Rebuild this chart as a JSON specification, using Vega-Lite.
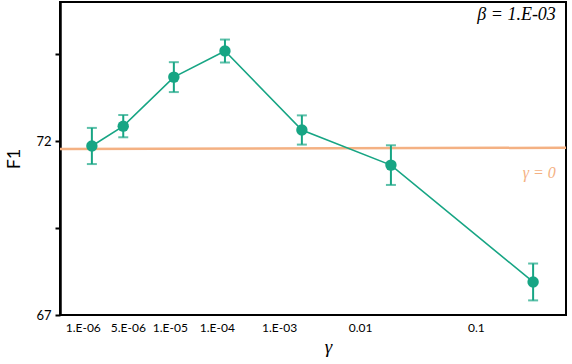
{
  "$schema": "https://vega.github.io/schema/vega-lite/v6.json",
  "width": 506,
  "height": 313,
  "autosize": "none",
  "padding": {"left": 60, "top": 2, "right": 6, "bottom": 49},
  "background": "white",
  "config": {
    "view": {"stroke": "black", "strokeWidth": 2},
    "font": "Lato"
  },
  "datasets": {
    "pts": [
      {"pos": 0.63, "f1": 71.86, "err": 0.52},
      {"pos": 1.25, "f1": 72.43, "err": 0.32},
      {"pos": 2.25, "f1": 73.84, "err": 0.43},
      {"pos": 3.26, "f1": 74.59, "err": 0.33},
      {"pos": 4.78, "f1": 72.32, "err": 0.42},
      {"pos": 6.54, "f1": 71.31, "err": 0.57},
      {"pos": 9.35, "f1": 67.95, "err": 0.53}
    ],
    "base": [
      {"pos": 0, "f1": 71.77},
      {"pos": 10, "f1": 71.81}
    ],
    "notes": [
      {"pos": 9.8, "f1": 75.62, "label": "β = 1.E-03", "kind": "beta"},
      {"pos": 9.8, "f1": 71.07, "label": "γ = 0", "kind": "gamma"}
    ]
  },
  "layer": [
    {
      "data": {"name": "base"},
      "mark": {"type": "line", "color": "#F4B183", "strokeWidth": 2.5},
      "encoding": {
        "x": {
          "field": "pos", "type": "quantitative",
          "scale": {"domain": [0, 10], "nice": false},
          "axis": {
            "values": [0.45, 1.34, 2.17, 3.1, 4.33, 5.93, 8.22],
            "labelExpr": "{'0.45':'1.E-06','1.34':'5.E-06','2.17':'1.E-05','3.1':'1.E-04','4.33':'1.E-03','5.93':'0.01','8.22':'0.1'}[datum.value + '']",
            "ticks": false, "grid": false, "domain": false,
            "labelFontSize": 12, "labelColor": "black", "labelPadding": 7,
            "title": "γ", "titleFontSize": 19, "titleFontStyle": "italic", "titleFontWeight": "normal",
            "titleFont": "Liberation Serif", "titlePadding": 4, "titleColor": "black", "titleX": 268
          }
        },
        "y": {
          "field": "f1", "type": "quantitative",
          "scale": {"domain": [67, 76], "nice": false, "zero": false},
          "axis": {
            "values": [67, 69.5, 72, 74.5],
            "labelExpr": "datum.value == 67 || datum.value == 72 ? datum.value : ''",
            "grid": false, "domainColor": "black", "domainWidth": 2.5,
            "tickColor": "black", "tickWidth": 2, "tickSize": 5,
            "labelFontSize": 13, "labelColor": "black", "labelPadding": 4,
            "title": "F1", "titleFontSize": 18, "titleFontWeight": "normal", "titleColor": "black", "titlePadding": 12
          }
        }
      }
    },
    {
      "data": {"name": "pts"},
      "mark": {"type": "line", "color": "#17A584", "strokeWidth": 1.6},
      "encoding": {
        "x": {"field": "pos", "type": "quantitative"},
        "y": {"field": "f1", "type": "quantitative"}
      }
    },
    {
      "data": {"name": "pts"},
      "transform": [
        {"calculate": "datum.f1 - datum.err", "as": "lo"},
        {"calculate": "datum.f1 + datum.err", "as": "hi"}
      ],
      "mark": {"type": "rule", "color": "#17A584", "strokeWidth": 2},
      "encoding": {
        "x": {"field": "pos", "type": "quantitative"},
        "y": {"field": "lo", "type": "quantitative"},
        "y2": {"field": "hi"}
      }
    },
    {
      "data": {"name": "pts"},
      "transform": [{"calculate": "datum.f1 - datum.err", "as": "lo"}],
      "mark": {"type": "tick", "color": "#17A584", "orient": "horizontal", "size": 10, "thickness": 2},
      "encoding": {
        "x": {"field": "pos", "type": "quantitative"},
        "y": {"field": "lo", "type": "quantitative"}
      }
    },
    {
      "data": {"name": "pts"},
      "transform": [{"calculate": "datum.f1 + datum.err", "as": "hi"}],
      "mark": {"type": "tick", "color": "#17A584", "orient": "horizontal", "size": 10, "thickness": 2},
      "encoding": {
        "x": {"field": "pos", "type": "quantitative"},
        "y": {"field": "hi", "type": "quantitative"}
      }
    },
    {
      "data": {"name": "pts"},
      "mark": {"type": "circle", "color": "#17A584", "opacity": 1, "size": 130},
      "encoding": {
        "x": {"field": "pos", "type": "quantitative"},
        "y": {"field": "f1", "type": "quantitative"}
      }
    },
    {
      "data": {"name": "notes"},
      "transform": [{"filter": "datum.kind == 'beta'"}],
      "mark": {"type": "text", "align": "right", "baseline": "middle", "font": "Liberation Serif", "fontSize": 18, "fontStyle": "italic", "color": "black"},
      "encoding": {
        "x": {"field": "pos", "type": "quantitative"},
        "y": {"field": "f1", "type": "quantitative"},
        "text": {"field": "label"}
      }
    },
    {
      "data": {"name": "notes"},
      "transform": [{"filter": "datum.kind == 'gamma'"}],
      "mark": {"type": "text", "align": "right", "baseline": "middle", "font": "Liberation Serif", "fontSize": 16, "fontStyle": "italic", "color": "#F4B183"},
      "encoding": {
        "x": {"field": "pos", "type": "quantitative"},
        "y": {"field": "f1", "type": "quantitative"},
        "text": {"field": "label"}
      }
    }
  ]
}
